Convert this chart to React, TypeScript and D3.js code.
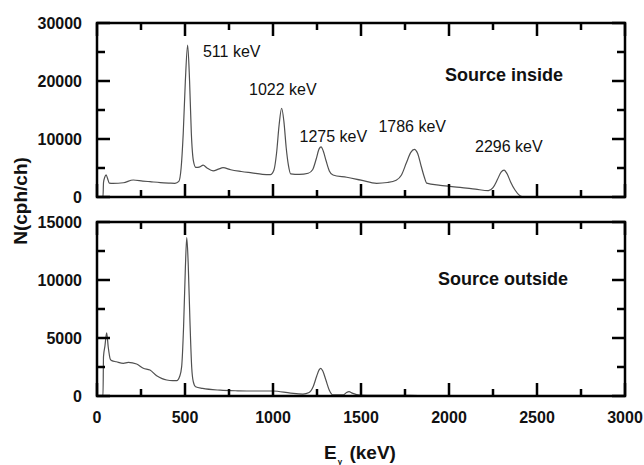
import React from 'react';
import * as d3 from 'd3';

const width = 644;
const height = 465;
const margin = { left: 97, right: 19, top: 23 };
const panelH = 174;
const gap = 25;

// spectrum with the source inside (keV, cph/ch)
const insideE = [30, 34, 37, 44, 52, 60, 70, 90, 150, 206, 260, 301, 360, 410, 443, 465, 478, 490, 502, 515, 526, 536, 548, 562, 585, 603, 625, 660, 690, 716, 760, 820, 880, 940, 985, 1005, 1020, 1035, 1049, 1062, 1075, 1088, 1100, 1150, 1200, 1225, 1245, 1262, 1273, 1286, 1302, 1320, 1341, 1419, 1500, 1589, 1650, 1700, 1730, 1758, 1783, 1803, 1822, 1842, 1860, 1873, 1950, 2063, 2150, 2224, 2250, 2275, 2296, 2313, 2330, 2350, 2375, 2403, 2420];
const insideN = [0, 0, 2500, 3400, 3800, 3200, 2400, 2350, 2460, 2930, 2750, 2640, 2480, 2400, 2360, 2700, 5000, 11000, 20000, 26200, 20000, 11000, 6200, 5100, 5200, 5500, 5000, 4500, 4800, 5050, 4700, 4400, 4150, 3900, 3850, 4600, 7500, 12500, 15300, 13000, 8500, 5400, 4000, 3900, 4100, 4700, 6500, 8300, 8650, 7900, 6200, 4500, 3800, 3400, 2900, 2360, 2500, 2900, 3800, 5900, 7700, 8220, 7500, 5300, 3400, 2400, 2000, 1670, 1350, 1090, 1600, 3000, 4300, 4650, 4000, 2600, 1200, 200, 0];

// spectrum with the source outside (keV, cph/ch)
const outsideE = [30, 34, 37, 45, 55, 64, 75, 84, 110, 150, 178, 225, 263, 301, 339, 370, 396, 430, 453, 470, 481, 492, 502, 510, 518, 528, 538, 547, 560, 600, 700, 800, 926, 1000, 1100, 1170, 1205, 1228, 1248, 1262, 1271, 1283, 1300, 1320, 1341, 1400, 1418, 1432, 1450, 1494, 1600, 1778, 1850, 1900];
const outsideN = [0, 0, 3400, 4300, 5450, 4200, 3200, 3050, 2950, 2820, 2900, 2760, 2390, 2240, 1750, 1500, 1380, 1320, 1320, 1700, 2530, 6000, 11000, 13650, 11500, 6500, 2500, 1230, 800, 650, 500, 450, 430, 430, 250, 170, 300, 800, 1700, 2250, 2390, 2150, 1400, 500, 90, 90, 300, 370, 250, 80, 60, 50, 20, 0];

const xTicks = [0, 500, 1000, 1500, 2000, 2500, 3000];
const insideTicks = [0, 10000, 20000, 30000];
const outsideTicks = [0, 5000, 10000, 15000];

// peak labels, anchored in data units of the upper panel
const peakLabels = ['511 keV', '1022 keV', '1275 keV', '1786 keV', '2296 keV'];
const peakLabelE = [602, 864, 1151, 1599, 2148];
const peakLabelN = [24140, 17590, 9480, 11210, 7760];

const font = '"Liberation Sans", Arial, sans-serif';
const curveColor = '#505050';

type PanelProps = {
  top: number;
  yMax: number;
  yTicks: number[];
  es: number[];
  ns: number[];
  title: string;
  titleE: number;
  titleN: number;
  children?: (y: d3.ScaleLinear<number, number>) => React.ReactNode;
};

const x = d3.scaleLinear().domain([0, 3000]).range([margin.left, width - margin.right]);

function Panel({ top, yMax, yTicks, es, ns, title, titleE, titleN, children }: PanelProps) {
  const y = d3.scaleLinear().domain([0, yMax]).range([top + panelH, top]);
  const line = d3.line<number>()
    .x((_, i) => x(es[i]))
    .y((d) => y(d))
    .curve(d3.curveMonotoneX);
  const x0 = x(0), x1 = x(3000), y0 = y(0), y1 = y(yMax);
  const minorX = d3.range(250, 3000, 500);
  const step = yTicks[1] - yTicks[0];
  const minorY = d3.range(step / 2, yMax, step);

  // all tick marks point inward, on all four sides
  const p = d3.path();
  xTicks.forEach((t) => {
    p.moveTo(x(t), y0); p.lineTo(x(t), y0 - 13);
    p.moveTo(x(t), y1); p.lineTo(x(t), y1 + 13);
  });
  minorX.forEach((t) => {
    p.moveTo(x(t), y0); p.lineTo(x(t), y0 - 7);
    p.moveTo(x(t), y1); p.lineTo(x(t), y1 + 7);
  });
  yTicks.forEach((t) => {
    p.moveTo(x0, y(t)); p.lineTo(x0 + 13, y(t));
    p.moveTo(x1, y(t)); p.lineTo(x1 - 13, y(t));
  });
  minorY.forEach((t) => {
    p.moveTo(x0, y(t)); p.lineTo(x0 + 8, y(t));
    p.moveTo(x1, y(t)); p.lineTo(x1 - 8, y(t));
  });

  return (
    <g>
      <path d={line(ns) || ''} fill="none" stroke={curveColor} strokeWidth={1.2} />
      <path d={p.toString()} fill="none" stroke="#000" strokeWidth={2.5} />
      {yTicks.map((t) => (
        <text key={'y' + t} x={x0 - 15} y={y(t)} dy="0.36em" textAnchor="end" fontSize={16} fontWeight="bold" fontFamily={font} fill="#111">
          {t}
        </text>
      ))}
      <rect x={x0} y={y1} width={x1 - x0} height={y0 - y1} fill="none" stroke="#000" strokeWidth={2.5} />
      <text x={x(titleE)} y={y(titleN)} fontSize={18} fontWeight="bold" fontFamily={font} fill="#111">
        {title}
      </text>
      {children && children(y)}
    </g>
  );
}

export default function App() {
  const bottomTop = margin.top + panelH + gap;
  return (
    <svg width={width} height={height} style={{ position: 'absolute', left: 0, top: 0, background: '#fff' }}>
      <Panel top={margin.top} yMax={30000} yTicks={insideTicks} es={insideE} ns={insideN}
        title="Source inside" titleE={1977} titleN={20000}>
        {(y) => peakLabels.map((l, i) => (
          <text key={l} x={x(peakLabelE[i])} y={y(peakLabelN[i])} fontSize={16} fontFamily={font} fill="#111">
            {l}
          </text>
        ))}
      </Panel>
      <Panel top={bottomTop} yMax={15000} yTicks={outsideTicks} es={outsideE} ns={outsideN}
        title="Source outside" titleE={1937} titleN={9570} />
      {xTicks.map((t) => (
        <text key={t} x={x(t)} y={bottomTop + panelH + 27} textAnchor="middle" fontSize={16} fontWeight="bold" fontFamily={font} fill="#111">
          {t}
        </text>
      ))}
      <text x={324} y={459} fontSize={19} fontWeight="bold" fontFamily={font} fill="#111">
        E<tspan fontSize={8} dx={1} dy={5}>γ</tspan><tspan dy={-5} dx={2}> (keV)</tspan>
      </text>
      <text transform="translate(27,201) rotate(-90)" textAnchor="middle" fontSize={19} fontWeight="bold" fontFamily={font} fill="#111">
        N(cph/ch)
      </text>
    </svg>
  );
}
